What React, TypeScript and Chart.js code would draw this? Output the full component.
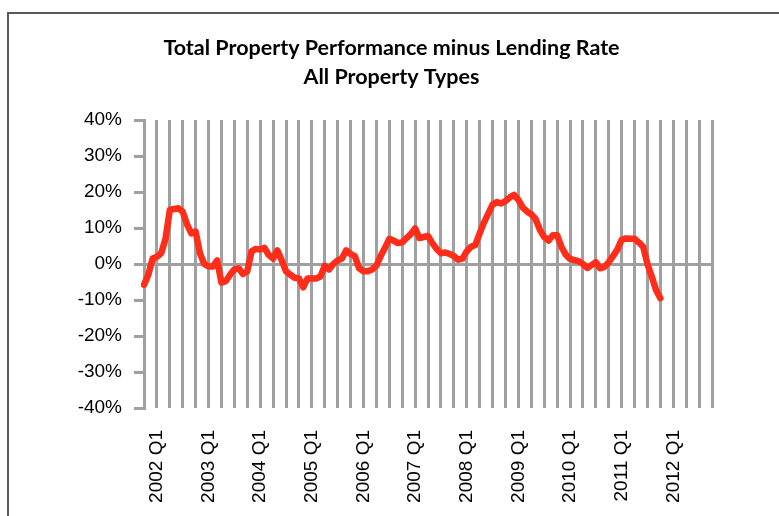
import React, { useEffect, useRef } from "react";
import { Chart, registerables } from "chart.js";

Chart.register(...registerables);

// Monthly spread (%), starting Oct 2001 (index 3 = 2002 Q1)
const spread: number[] = [
  -5.8, -3, 1.5, 2, 3, 7, 15, 15.3, 15.5, 14.5,
  11, 8.5, 9, 3, 0, -0.7, -0.7, 1, -5.2, -4.8,
  -3, -1.5, -1.2, -2.8, -2, 3.5, 4.2, 4, 4.5, 2.5,
  1.5, 3.8, 1, -2, -3, -3.8, -4, -6.5, -4, -4,
  -4, -3.5, -0.5, -1.5, 0, 1, 1.5, 3.8, 2.8, 2.2,
  -1.2, -2, -2, -1.5, -0.5, 2.2, 4.5, 7, 6.5, 5.8,
  6, 7.2, 8.3, 9.9, 7.2, 7.5, 7.8, 5.8, 4.2, 3,
  3.2, 2.8, 2.2, 1.2, 1.5, 3.5, 4.8, 5.3, 8.5, 11.5,
  14, 16.5, 17.2, 16.8, 17.5, 18.5, 19.2, 17.8, 15.7, 14.6,
  13.8, 12.5, 9.5, 7.5, 6.5, 8, 8, 4.8, 2.6, 1.4,
  1.1, 0.8, 0, -1.1, -0.3, 0.5, -1.2, -0.8, 0.5, 2.2,
  4, 6.7, 7.1, 7, 7, 6, 4.8, 0, -3.5, -7.2,
  -9.5,
];

const tickLabels: string[] = [
  "2002 Q1", "2003 Q1", "2004 Q1", "2005 Q1", "2006 Q1", "2007 Q1",
  "2008 Q1", "2009 Q1", "2010 Q1", "2011 Q1", "2012 Q1",
];

const firstYear = 2001;
const firstMonth = 9; // October
const monthCount = 133; // Oct 2001 .. Oct 2012

const categories: string[] = [];
for (let i = 0; i < monthCount; i++) {
  const m = firstMonth + i;
  const y = firstYear + Math.floor(m / 12);
  const q = Math.floor((m % 12) / 3) + 1;
  categories.push(`${y} Q${q}`);
}

const titleLines = ["Total Property Performance minus Lending Rate", "All Property Types"];

const GREY = "#a0a0a0";
const RED = "#ff2d19";

const titlePlugin = {
  id: "excelTitle",
  afterDraw(chart: any) {
    const ctx = chart.ctx;
    ctx.save();
    ctx.fillStyle = "#000";
    ctx.font = "bold 21.5px Lato";
    ctx.textAlign = "center";
    ctx.textBaseline = "middle";
    ctx.fillText(titleLines[0], 391.5, 48);
    ctx.fillText(titleLines[1], 391.5, 77);
    ctx.restore();
  },
};

export default function App() {
  const ref = useRef<HTMLCanvasElement | null>(null);

  useEffect(() => {
    if (!ref.current) return;
    const chart = new Chart(ref.current, {
      type: "line",
      data: {
        labels: categories,
        datasets: [
          {
            data: spread,
            borderColor: RED,
            backgroundColor: RED,
            borderWidth: 6.5,
            pointRadius: 0,
            tension: 0,
            borderJoinStyle: "round",
            borderCapStyle: "round",
            fill: false,
          },
        ],
      },
      plugins: [titlePlugin],
      options: {
        responsive: false,
        animation: false,
        layout: { padding: { left: 0, right: 67, top: 120, bottom: 0 } },
        plugins: {
          legend: { display: false },
          tooltip: { enabled: false },
          title: { display: false },
        },
        scales: {
          x: {
            type: "category",
            offset: false,
            afterFit: (scale: any) => {
              scale.height = 108;
            },
            border: { display: false },
            grid: {
              drawTicks: false,
              lineWidth: 3,
              color: (ctx: any) => (ctx.index % 3 === 0 ? GREY : "rgba(0,0,0,0)"),
            },
            ticks: {
              autoSkip: false,
              minRotation: 90,
              maxRotation: 90,
              padding: 22,
              color: "#000",
              font: { family: "Liberation Sans", size: 19 },
              callback: (_v: any, i: number) => {
                const lab = categories[i];
                return tickLabels.includes(lab) && (firstMonth + i) % 12 === 0 ? lab : "";
              },
            },
          },
          y: {
            min: -40,
            max: 40,
            afterFit: (scale: any) => {
              scale.width = 144;
            },
            border: { display: true, color: GREY, width: 3 },
            grid: {
              drawTicks: true,
              tickLength: 10,
              lineWidth: 3,
              tickWidth: 3,
              tickColor: GREY,
              color: (ctx: any) => (ctx.tick && ctx.tick.value === 0 ? GREY : "rgba(0,0,0,0)"),
            },
            ticks: {
              stepSize: 10,
              padding: 12,
              color: "#000",
              font: { family: "Liberation Sans", size: 19 },
              callback: (v: any) => `${v}%`,
            },
          },
        },
      },
    });
    return () => chart.destroy();
  }, []);

  return (
    <div style={{ position: "fixed", left: 0, top: 0, width: 779, height: 516, overflow: "hidden", background: "#fff" }}>
      <div
        style={{
          position: "absolute",
          left: 7,
          top: 12,
          width: 800,
          height: 600,
          border: "2px solid #595959",
          boxSizing: "border-box",
        }}
      />
      <canvas ref={ref} width={779} height={516} style={{ position: "absolute", left: 0, top: 0 }} />
    </div>
  );
}
